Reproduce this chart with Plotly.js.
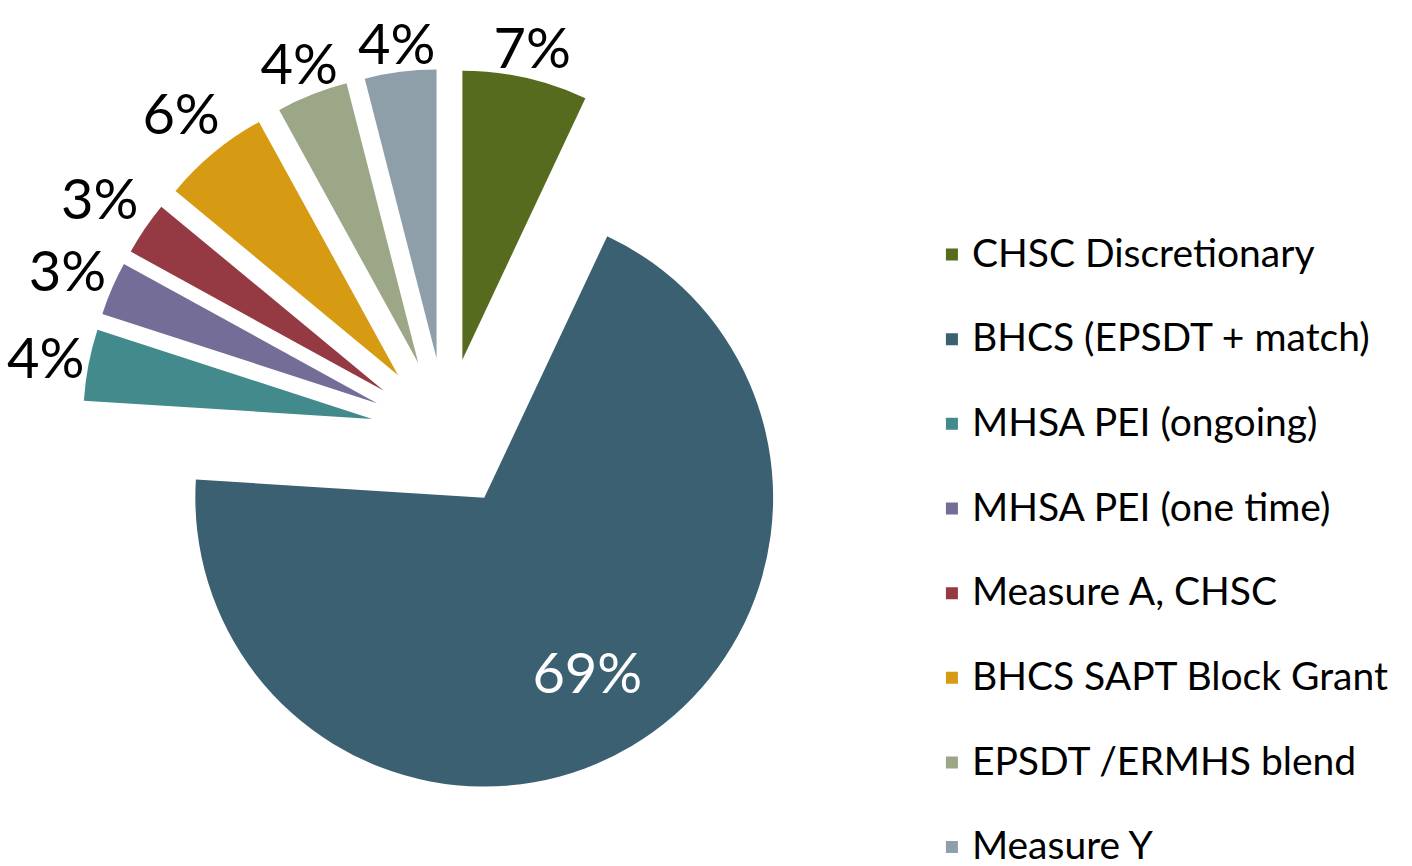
<!DOCTYPE html>
<html>
<head>
<meta charset="utf-8">
<script src="https://cdn.plot.ly/plotly-3.0.1.min.js"></script>
<style>html,body{margin:0;padding:0;background:#fff;}#chart{width:1412px;height:866px;}</style>
</head>
<body>
<div id="chart"></div>
<script>
// ---- data ----
const labels = ['CHSC Discretionary', 'BHCS (EPSDT + match)', 'MHSA PEI (ongoing)', 'MHSA PEI (one time)', 'Measure A, CHSC', 'BHCS SAPT Block Grant', 'EPSDT /ERMHS blend', 'Measure Y'];
const values = [7, 69, 4, 3, 3, 6, 4, 4];

// ---- styles ----
const colors = ['#566B1E', '#3B6071', '#438A8C', '#736D98', '#953A43', '#D69B13', '#9BA787', '#8E9FAA'];
const slicePull = [0.26, 0.26, 0.26, 0.26, 0.26, 0.26, 0.26, 0.26];
// transparent companion pies that only carry the percent labels
const outerLabelPull = [2.770, 2.053, 2.811, 2.831, 2.886, 2.931, 2.729, 2.684];
const outerLabelPos = ['inside', 'none', 'inside', 'inside', 'inside', 'inside', 'inside', 'inside'];
const innerLabelPull = [0, 0.888, 0, 0, 0, 0, 0, 0];
const innerLabelPos = ['none', 'inside', 'none', 'none', 'none', 'none', 'none', 'none'];

const FONT = 'Lato, "Gill Sans", "Gill Sans MT", sans-serif';
const W = 1412, H = 866;
const CX = 446, CY = 433;

// legend entries: larger display text with a blank line for row spacing
const legendLabels = labels.map(l => '<span style="font-size:39px">' + l + '</span><br> ');
const clear = labels.map(() => 'rgba(0,0,0,0)');

function dom(half) {
  return {x: [(CX - half) / W, (CX + half) / W], y: [Math.max(0, (H - CY - half) / H), Math.min(1, (H - CY + half) / H)]};
}

const pieTrace = {
  type: 'pie',
  labels: legendLabels,
  values: values,
  sort: false,
  direction: 'clockwise',
  rotation: 0,
  pull: slicePull,
  marker: {colors: colors, line: {width: 0}},
  textinfo: 'none',
  textposition: 'none',
  domain: dom(364),
  hoverinfo: 'percent'
};

const outerLabels = {
  type: 'pie',
  labels: labels,
  values: values,
  sort: false,
  direction: 'clockwise',
  rotation: 0,
  pull: outerLabelPull,
  marker: {colors: clear, line: {width: 0}},
  textinfo: 'percent',
  textposition: outerLabelPos,
  insidetextorientation: 'horizontal',
  insidetextfont: {family: FONT, size: 56, color: '#000000'},
  showlegend: false,
  hoverinfo: 'skip',
  domain: dom(433)
};

const innerLabels = {
  type: 'pie',
  labels: labels,
  values: values,
  sort: false,
  direction: 'clockwise',
  rotation: 0,
  pull: innerLabelPull,
  marker: {colors: clear, line: {width: 0}},
  textinfo: 'percent',
  textposition: innerLabelPos,
  insidetextorientation: 'horizontal',
  insidetextfont: {family: FONT, size: 56, color: '#ffffff'},
  showlegend: false,
  hoverinfo: 'skip',
  domain: dom(377.6)
};

const layout = {
  width: W,
  height: H,
  margin: {l: 0, r: 0, t: 0, b: 0, autoexpand: false},
  paper_bgcolor: '#ffffff',
  plot_bgcolor: '#ffffff',
  showlegend: true,
  uniformtext: {mode: 'show', minsize: 56},
  legend: {
    x: 0.66, xanchor: 'left',
    y: 0.7371, yanchor: 'top',
    valign: 'top',
    font: {family: FONT, size: 31.4, color: '#000000'},
    bgcolor: 'rgba(0,0,0,0)'
  },
  font: {family: FONT}
};

Plotly.newPlot('chart', [pieTrace, outerLabels, innerLabels], layout, {displayModeBar: false, staticPlot: true});
</script>
</body>
</html>
